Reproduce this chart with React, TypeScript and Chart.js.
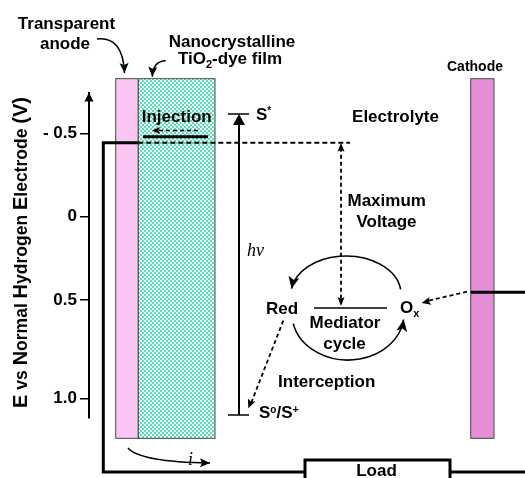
import React, { useEffect, useRef } from "react";
import { Chart, registerables } from "chart.js";

Chart.register(...registerables);

const SANS = '"Liberation Sans", Arial, Helvetica, sans-serif';
const SERIF = '"Liberation Serif", "Times New Roman", serif';

// ---------- y axis (E vs NHE, volts) ----------
const axisMin = -0.742;
const axisMax = 1.208;
const tickValues = [-0.5, 0, 0.5, 1.09];
const tickLabels = ["- 0.5", "0", "0.5", "1.0"];
const axisTitleText = ["E", " vs ", "N", "ormal ", "H", "ydrogen ", "E", "lectrode ", "(V)"];
const axisTitleBig = [true, false, true, false, true, false, true, false, true];

// ---------- energy levels (V vs NHE) ----------
const levelNames = ["sStar", "injection", "tio2Band", "fermi", "cathode", "mediator", "sGround"];
const levelValues = [-0.616, -0.517, -0.48, -0.443, 0.454, 0.548, 1.19];
const lv = (n: string) => levelValues[levelNames.indexOf(n)];

// ---------- vertical extents of cell parts (V) ----------
const electrodeTop = -0.828;
const electrodeBottom = 1.33;
const circuitLevel = 1.532;
const loadTop = 1.46;
const loadBottom = 1.64;

// ---------- horizontal layout (diagram x units) ----------
const L = {
  min: 89, max: 525,
  wire: 103.3, anodeL: 115.7, anodeR: 138.3, filmR: 215,
  bandL: 143, bandR: 208, injL: 152, injR: 198,
  lvlL: 228, lvlR: 249, hv: 239, fermiEnd: 350, maxV: 341,
  medL: 314, medR: 387, cathL: 470.7, cathR: 494,
  loadL: 305, loadR: 450,
};

type Part = { t: string; size?: number; dy?: number; italic?: boolean; serif?: boolean; normal?: boolean };
type Label = { parts: Part[]; x: number; v: number; align: "left" | "center" | "right" };

const labels: Label[] = [
  { parts: [{ t: "Transparent" }], x: 66.5, v: -1.129, align: "center" },
  { parts: [{ t: "anode" }], x: 65, v: -1.006, align: "center" },
  { parts: [{ t: "Nanocrystalline" }], x: 232, v: -1.02, align: "center" },
  { parts: [{ t: "TiO" }, { t: "2", size: 11, dy: 4 }, { t: "-dye film" }], x: 230, v: -0.916, align: "center" },
  { parts: [{ t: "Cathode", size: 14 }], x: 475, v: -0.876, align: "center" },
  { parts: [{ t: "Injection" }], x: 176.7, v: -0.57, align: "center" },
  { parts: [{ t: "S" }, { t: "*", size: 10, dy: -6 }], x: 256, v: -0.58, align: "left" },
  { parts: [{ t: "Electrolyte" }], x: 395.5, v: -0.57, align: "center" },
  { parts: [{ t: "Maximum" }], x: 386.7, v: -0.066, align: "center" },
  { parts: [{ t: "Voltage" }], x: 386.5, v: 0.059, align: "center" },
  { parts: [{ t: "h\u03bd", italic: true, serif: true, normal: true, size: 18 }], x: 247, v: 0.234, align: "left" },
  { parts: [{ t: "Red" }], x: 282, v: 0.584, align: "center" },
  { parts: [{ t: "Mediator" }], x: 345, v: 0.67, align: "center" },
  { parts: [{ t: "cycle" }], x: 344.5, v: 0.796, align: "center" },
  { parts: [{ t: "O" }, { t: "x", size: 11, dy: 4 }], x: 400, v: 0.58, align: "left" },
  { parts: [{ t: "Interception" }], x: 326.7, v: 1.024, align: "center" },
  { parts: [{ t: "S" }, { t: "o", size: 10, dy: -5 }, { t: "/S" }, { t: "+", size: 11, dy: -5 }], x: 259, v: 1.21, align: "left" },
  { parts: [{ t: "Load" }], x: 376.5, v: 1.556, align: "center" },
  { parts: [{ t: "i", italic: true, serif: true, normal: true, size: 18 }], x: 190.5, v: 1.49, align: "center" },
];

function fontOf(p: Part) {
  return `${p.italic ? "italic " : ""}${p.normal ? "400" : "700"} ${p.size || 17}px ${p.serif ? SERIF : SANS}`;
}

function rich(ctx: CanvasRenderingContext2D, parts: Part[], x: number, y: number, align: string) {
  let total = 0;
  const widths = parts.map((p) => {
    ctx.font = fontOf(p);
    const w = ctx.measureText(p.t).width;
    total += w;
    return w;
  });
  let cx = align === "left" ? x : align === "center" ? x - total / 2 : x - total;
  ctx.textAlign = "left";
  ctx.textBaseline = "alphabetic";
  parts.forEach((p, i) => {
    ctx.font = fontOf(p);
    ctx.fillText(p.t, cx, y + (p.dy || 0));
    cx += widths[i];
  });
}

function head(ctx: CanvasRenderingContext2D, x: number, y: number, ang: number, len: number, wid: number, notch = 1) {
  ctx.save();
  ctx.translate(x, y);
  ctx.rotate(ang);
  ctx.beginPath();
  ctx.moveTo(0, 0);
  ctx.lineTo(-len, wid / 2);
  ctx.lineTo(-len * notch, 0);
  ctx.lineTo(-len, -wid / 2);
  ctx.closePath();
  ctx.fill();
  ctx.restore();
}

const seg = (pts: { x: number; y: number }[], w: number, dash: number[] = []) => ({
  type: "line" as const,
  data: pts,
  borderColor: "#000",
  backgroundColor: "#000",
  borderWidth: w,
  borderDash: dash,
  borderCapStyle: "butt" as const,
  borderJoinStyle: "miter" as const,
  pointRadius: 0,
  pointHoverRadius: 0,
  fill: false,
  tension: 0,
  clip: false as any,
});

function buildDatasets() {
  const D = [5, 3];
  return [
    seg([{ x: L.anodeR, y: lv("fermi") }, { x: L.wire, y: lv("fermi") }, { x: L.wire, y: circuitLevel }, { x: L.loadL, y: circuitLevel }], 3),
    seg([{ x: L.loadL, y: loadBottom }, { x: L.loadL, y: loadTop }, { x: L.loadR, y: loadTop }, { x: L.loadR, y: loadBottom }], 3),
    seg([{ x: L.loadR, y: circuitLevel }, { x: L.max + 5, y: circuitLevel }], 3),
    seg([{ x: L.cathL, y: lv("cathode") }, { x: L.max + 5, y: lv("cathode") }], 3),
    seg([{ x: L.anodeR, y: lv("fermi") }, { x: L.fermiEnd, y: lv("fermi") }], 2, D),
    seg([{ x: L.bandL, y: lv("tio2Band") }, { x: L.bandR, y: lv("tio2Band") }], 3),
    seg([{ x: L.injR, y: lv("injection") }, { x: L.injL + 5, y: lv("injection") }], 1.6, [4, 3]),
    seg([{ x: L.lvlL, y: lv("sStar") }, { x: L.lvlR, y: lv("sStar") }], 1.5),
    seg([{ x: L.lvlL, y: lv("sGround") }, { x: L.lvlR, y: lv("sGround") }], 1.5),
    seg([{ x: L.hv, y: lv("sGround") }, { x: L.hv, y: lv("sStar") + 0.04 }], 2),
    seg([{ x: L.maxV, y: lv("fermi") + 0.03 }, { x: L.maxV, y: lv("mediator") - 0.03 }], 1.8, [4, 3]),
    seg([{ x: L.medL, y: lv("mediator") }, { x: L.medR, y: lv("mediator") }], 1.5),
    seg([{ x: 283.3, y: 0.624 }, { x: 251, y: 1.12 }], 1.8, [4, 3]),
    seg([{ x: 467, y: lv("cathode") - 0.004 }, { x: 428, y: 0.505 }], 1.8, [4, 3]),
  ];
}

function makePlugin(pattern: CanvasPattern | null) {
  return {
    id: "cellDiagram",
    beforeDatasetsDraw(chart: any) {
      const ctx: CanvasRenderingContext2D = chart.ctx;
      const xs = chart.scales.x, ys = chart.scales.y;
      const X = (v: number) => xs.getPixelForValue(v);
      const Y = (v: number) => ys.getPixelForValue(v);
      const rect = (x1: number, x2: number, fill: any) => {
        const t = Y(electrodeTop), b = Y(electrodeBottom);
        ctx.fillStyle = fill;
        ctx.fillRect(X(x1), t, X(x2) - X(x1), b - t);
        ctx.strokeStyle = "#4a4a4a";
        ctx.lineWidth = 1;
        ctx.strokeRect(X(x1), t, X(x2) - X(x1), b - t);
      };
      ctx.save();
      rect(L.anodeL, L.anodeR, "#F8C6F0");
      rect(L.anodeR, L.filmR, pattern || "#97E5CF");
      rect(L.cathL, L.cathR, "#E48ED8");
      ctx.restore();
    },
    afterDatasetsDraw(chart: any) {
      const ctx: CanvasRenderingContext2D = chart.ctx;
      const xs = chart.scales.x, ys = chart.scales.y;
      const X = (v: number) => xs.getPixelForValue(v);
      const Y = (v: number) => ys.getPixelForValue(v);
      ctx.save();
      ctx.fillStyle = "#000";
      ctx.strokeStyle = "#000";

      // axis arrow
      head(ctx, X(L.min), Y(-0.745), -Math.PI / 2, 9, 9);
      // hv arrow
      head(ctx, X(L.hv), Y(lv("sStar")), -Math.PI / 2, 11, 12);
      // injection arrow
      head(ctx, X(L.injL), Y(lv("injection")), Math.PI, 8, 7, 0.8);
      // maximum voltage arrows
      head(ctx, X(L.maxV), Y(lv("fermi")), -Math.PI / 2, 9, 7, 0.8);
      head(ctx, X(L.maxV), Y(lv("mediator")) - 2, Math.PI / 2, 9, 7, 0.8);
      // interception arrow
      {
        const x0 = X(283.3), y0 = Y(0.624), x1 = X(248.3), y1 = Y(1.15);
        head(ctx, x1, y1, Math.atan2(y1 - y0, x1 - x0), 9, 8, 0.8);
      }
      // cathode -> Ox arrow
      {
        const x0 = X(467), y0 = Y(0.45), x1 = X(421.7), y1 = Y(0.518);
        head(ctx, x1, y1, Math.atan2(y1 - y0, x1 - x0), 9, 8, 0.8);
      }

      // mediator cycle arcs
      ctx.lineWidth = 1.6;
      const arc = (cx: number, cv: number, rx: number, rv: number, a0: number, a1: number) => {
        const px = X(cx), py = Y(cv);
        const rpx = X(cx + rx) - px, rpy = Y(cv + rv) - py;
        ctx.beginPath();
        ctx.ellipse(px, py, rpx, rpy, 0, a0, a1, true);
        ctx.stroke();
        const ex = px + rpx * Math.cos(a1), ey = py + rpy * Math.sin(a1);
        const tx = rpx * Math.sin(a1), ty = -rpy * Math.cos(a1);
        head(ctx, ex, ey, Math.atan2(ty, tx), 12, 11, 0.75);
      };
      arc(346, 0.464, 55, 0.228, -0.12, -3.0);
      arc(348, 0.584, 56, 0.276, 2.93, 0.12);

      // label arrows (quadratic curves)
      const curve = (x0: number, v0: number, cx: number, cv: number, x1: number, v1: number) => {
        ctx.beginPath();
        ctx.moveTo(X(x0), Y(v0));
        ctx.quadraticCurveTo(X(cx), Y(cv), X(x1), Y(v1));
        ctx.stroke();
        head(ctx, X(x1), Y(v1), Math.atan2(Y(v1) - Y(cv), X(x1) - X(cx)), 10, 9, 0.8);
      };
      ctx.lineWidth = 1.5;
      curve(97, -1.066, 123, -1.084, 124.5, -0.862);
      curve(165.7, -0.936, 153, -0.934, 152.3, -0.84);
      curve(128, 1.388, 140, 1.472, 210, 1.478);

      // text labels
      labels.forEach((lb) => rich(ctx, lb.parts, X(lb.x), Y(lb.v), lb.align));

      // axis title with large capitals
      const parts: Part[] = axisTitleText.map((t, i) => ({ t, size: axisTitleBig[i] ? 20 : 17.5 }));
      ctx.translate(ys.left + 27, (ys.top + ys.bottom) / 2 - 3);
      ctx.rotate(-Math.PI / 2);
      rich(ctx, parts, 0, 0, "center");
      ctx.restore();
    },
  };
}

export default function App() {
  const ref = useRef<HTMLCanvasElement>(null);
  useEffect(() => {
    const canvas = ref.current!;
    const ctx = canvas.getContext("2d")!;
    const pc = document.createElement("canvas");
    pc.width = 4;
    pc.height = 4;
    const p = pc.getContext("2d")!;
    p.fillStyle = "#5CDAB9";
    p.fillRect(0, 0, 4, 4);
    p.fillStyle = "#F0FCF8";
    p.fillRect(0, 0, 2, 2);
    p.fillRect(2, 2, 2, 2);
    const pattern = ctx.createPattern(pc, "repeat");

    const chart = new Chart(canvas, {
      type: "line",
      data: { datasets: buildDatasets() as any },
      options: {
        animation: false,
        responsive: false,
        devicePixelRatio: 1,
        layout: { padding: { top: 93, bottom: 60, left: 0, right: 0 } },
        plugins: { legend: { display: false }, tooltip: { enabled: false } },
        events: [],
        scales: {
          x: { type: "linear", display: false, min: L.min, max: L.max },
          y: {
            type: "linear",
            reverse: true,
            min: axisMin,
            max: axisMax,
            afterBuildTicks: (s: any) => {
              s.ticks = tickValues.map((value) => ({ value }));
            },
            afterFit: (s: any) => {
              s.width = L.min;
            },
            ticks: {
              autoSkip: false,
              color: "#000",
              padding: 3,
              font: { family: SANS, size: 17, weight: "bold" },
              callback: (_v: any, i: number) => tickLabels[i],
            },
            grid: { display: true, drawOnChartArea: false, drawTicks: true, tickLength: 9, color: "#000", lineWidth: 1.5 },
            border: { display: true, color: "#000", width: 2 },
            title: { display: false },
          },
        },
      },
      plugins: [makePlugin(pattern) as any],
    });
    return () => chart.destroy();
  }, []);

  return (
    <div style={{ position: "fixed", left: 0, top: 0, width: 525, height: 478, background: "#fff" }}>
      <canvas ref={ref} width={525} height={478} style={{ width: 525, height: 478, display: "block" }} />
    </div>
  );
}
